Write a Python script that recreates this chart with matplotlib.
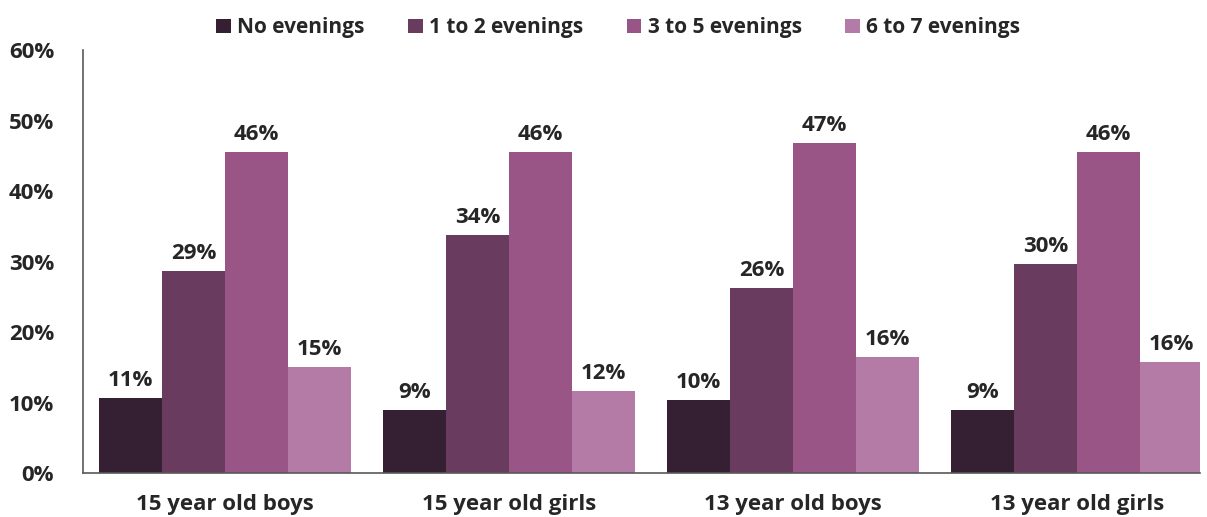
import matplotlib.pyplot as plt
import numpy as np

plt.rcParams['font.family'] = ['Open Sans', 'DejaVu Sans']

groups = ['15 year old boys', '15 year old girls', '13 year old boys', '13 year old girls']
series = ['No evenings', '1 to 2 evenings', '3 to 5 evenings', '6 to 7 evenings']
no_evenings = [10.6, 8.9, 10.4, 8.9]
one_two = [28.7, 33.8, 26.2, 29.6]
three_five = [45.6, 45.6, 46.8, 45.6]
six_seven = [15.0, 11.6, 16.5, 15.7]
labels = [[11, 9, 10, 9], [29, 34, 26, 30], [46, 46, 47, 46], [15, 12, 16, 16]]
colors = ['#351f32', '#693b5e', '#985586', '#b47ba7']

values = [no_evenings, one_two, three_five, six_seven]

fig = plt.figure(figsize=(12.07, 5.17), dpi=100)
ax = fig.add_axes([0.069, 0.085, 0.925, 0.818])

x = np.arange(len(groups))
w = 0.222
for i, vals in enumerate(values):
    pos = x + (i - 1.5) * w
    ax.bar(pos, vals, width=w, color=colors[i], label=series[i])
    for p, v, lab in zip(pos, vals, labels[i]):
        ax.text(p, v + 1.0, f'{lab}%', ha='center', va='bottom',
                fontsize=16, fontweight='bold', color='#262626')

ax.set_xlim(-0.5, 3.433)
ax.set_ylim(0, 60)
ax.set_yticks(range(0, 61, 10))
ax.set_yticklabels([f'{t}%' for t in range(0, 61, 10)])
ax.set_xticks(x)
ax.set_xticklabels(groups)
ax.tick_params(axis='both', length=0, labelsize=16, colors='#262626')
ax.tick_params(axis='x', pad=15)
ax.tick_params(axis='y', pad=21)
for lab in ax.get_xticklabels() + ax.get_yticklabels():
    lab.set_fontweight('bold')
for s in ['top', 'right']:
    ax.spines[s].set_visible(False)
for s in ['left', 'bottom']:
    ax.spines[s].set_color('#595959')
    ax.spines[s].set_linewidth(1.2)

ax.legend(loc='upper center', bbox_to_anchor=(0.479, 1.122), ncol=4, frameon=False,
          handlelength=0.7, handleheight=0.7, handletextpad=0.3, columnspacing=2.1,
          prop={'size': 15, 'weight': 'bold'}, labelcolor='#262626')

fig.savefig('out.png', dpi=100)
